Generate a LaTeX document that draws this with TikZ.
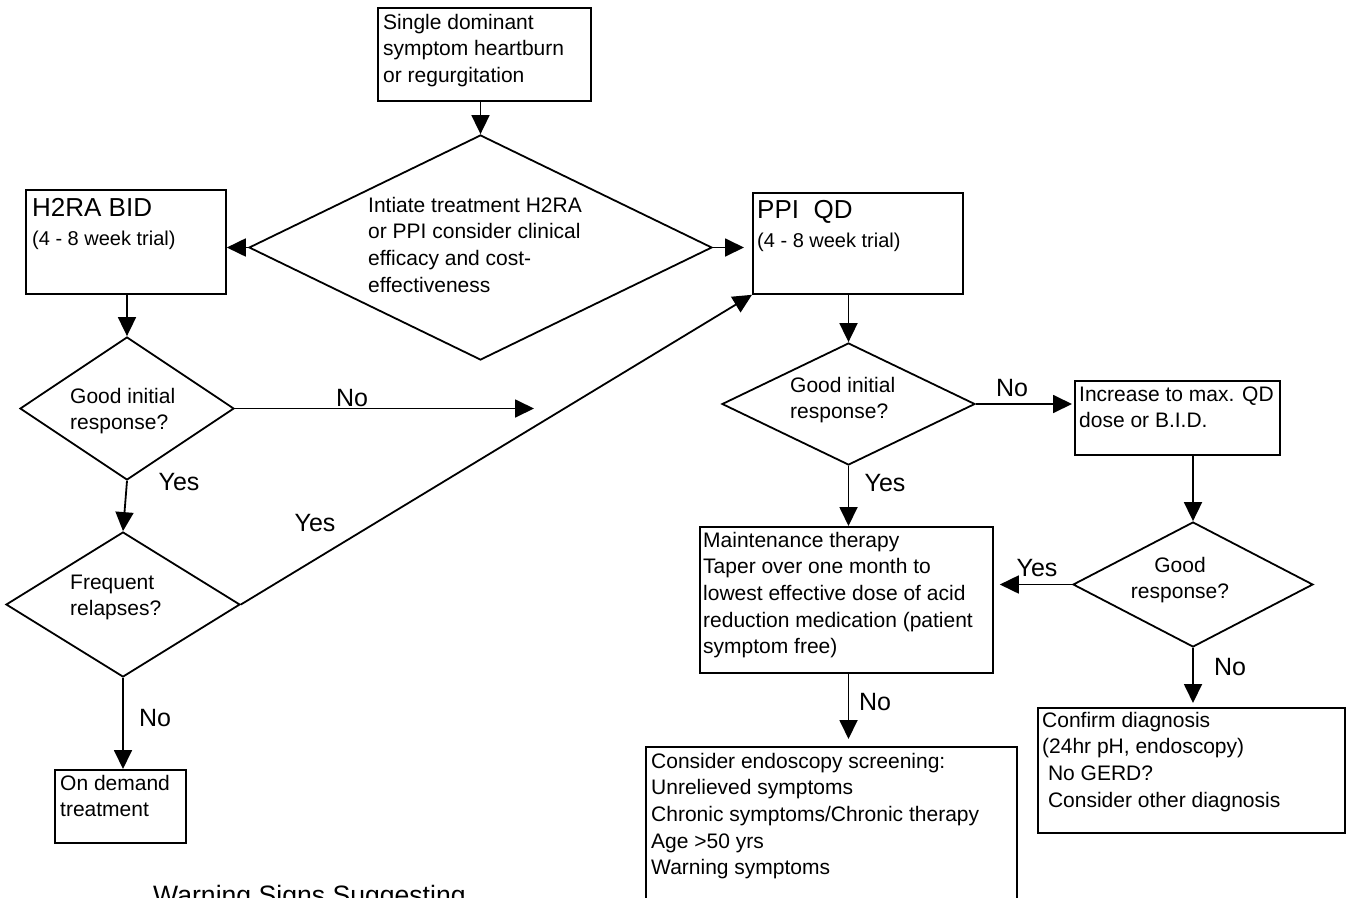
\documentclass[tikz,border=0pt]{standalone}
\usepackage{fontspec}
\setmainfont{Liberation Sans}
\usetikzlibrary{shapes.geometric}
\usetikzlibrary{arrows.meta}
\usetikzlibrary{positioning}

\tikzset{
  box/.style={draw, line width=1.8pt, inner sep=0pt, anchor=north west},
  decision/.style={draw, diamond, line width=1.8pt, inner sep=0pt},
  txt/.style={anchor=base west, align=left, inner sep=0pt, font=\fontsize{21}{26.7}\selectfont},
  ctxt/.style={anchor=base, align=center, inner sep=0pt, font=\fontsize{21}{26.7}\selectfont},
  head/.style={anchor=base west, inner sep=0pt, font=\fontsize{26}{30}\selectfont},
  sub/.style={anchor=base west, inner sep=0pt, font=\fontsize{20}{26}\selectfont},
  lbl/.style={inner sep=0pt, font=\fontsize{25}{30}\selectfont},
  arr/.style={line width=1.8pt, -{Triangle[length=19pt,width=18pt]}}
}

\begin{document}
\begin{tikzpicture}[x=1pt,y=-1pt]
		\useasboundingbox (0,0) rectangle (1346,897);
		\clip (0,0) rectangle (1346,897);
		% boxes
		\node[box, minimum width=213pt, minimum height=93pt] (single) at (377,7) {};
		\node[box, minimum width=200pt, minimum height=104pt] (h2ra) at (25,189) {};
		\node[box, minimum width=210pt, minimum height=101pt] (ppi) at (752,192) {};
		\node[box, minimum width=205pt, minimum height=74pt] (incr) at (1074,380) {};
		\node[box, minimum width=293pt, minimum height=146pt] (maint) at (699,526) {};
		\node[box, minimum width=371pt, minimum height=152pt] (endo) at (645,746) {};
		\node[box, minimum width=307pt, minimum height=125pt] (confirm) at (1037,707) {};
		\node[box, minimum width=131pt, minimum height=73pt] (demand) at (54,769) {};
		% decisions
		\node[decision, minimum width=463pt, minimum height=225pt] (start) at (480.5,247.5) {};
		\node[decision, minimum width=214pt, minimum height=143pt] (goodl) at (127,408.5) {};
		\node[decision, minimum width=234pt, minimum height=145pt] (freq) at (123,604.5) {};
		\node[decision, minimum width=253pt, minimum height=122pt] (goodr) at (848.5,404) {};
		\node[decision, minimum width=240pt, minimum height=125pt] (goodmax) at (1193,584.5) {};
		% texts (placed at the baseline of their last line)
		\node[txt] (singletxt) at (383,82.4) {Single dominant\\symptom heartburn\\or regurgitation};
		\node[head] (h2rahead) at (32,216) {H2RA BID};
		\node[sub] (h2rasub) at (32,245) {(4 - 8 week trial)};
		\node[head] (ppihead) at (757,218) {PPI\ \ QD};
		\node[sub] (ppisub) at (757,247) {(4 - 8 week trial)};
		\node[txt] (starttxt) at (368,292.1) {Intiate treatment H2RA\\or PPI consider clinical\\efficacy and cost-\\effectiveness};
		\node[txt] (goodltxt) at (70,429.7) {Good initial\\response?};
		\node[txt] (freqtxt) at (70,615.7) {Frequent\\relapses?};
		\node[txt] (demandtxt) at (60,816.7) {On demand\\treatment};
		\node[txt] (goodrtxt) at (790,418.7) {Good initial\\response?};
		\node[txt] (incrtxt) at (1079,427.7) {Increase to max. QD\\dose or B.I.D.};
		\node[ctxt] (goodmaxtxt) at (1180,598.7) {Good\\response?};
		\node[txt] (mainttxt) at (703,653.8) {Maintenance therapy\\Taper over one month to\\lowest effective dose of acid\\reduction medication (patient\\symptom free)};
		\node[txt] (endotxt) at (651,874.8) {Consider endoscopy screening:\\Unrelieved symptoms\\Chronic symptoms/Chronic therapy\\Age >50 yrs\\Warning symptoms};
		\node[txt] (confirmtxt) at (1042,807.1) {Confirm diagnosis\\(24hr pH, endoscopy)\\\ No GERD?\\\ Consider other diagnosis};
		\node[anchor=base west, inner sep=0pt, font=\fontsize{26.6}{30}\selectfont] (warning) at (153,904) {Warning Signs Suggesting};
		% connectors
		\coordinate (noend) at (534,408.5);
		\draw[arr] (start.north |- single.south) -- (start.north);
		\draw[arr] (start.west) -- (start.west -| h2ra.east);
		\draw[arr, shorten >=8pt] (start.east) -- (start.east -| ppi.west);
		\draw[arr] (goodl.north |- h2ra.south) -- (goodl.north);
		\draw[arr] (goodl.east) -- (noend);
		\draw[arr] (goodl.south) -- (freq.north);
		\draw[arr] (freq.east) -- (ppi.south west);
		\draw[arr] (freq.south) -- (freq.south |- demand.north);
		\draw[arr] (goodr.north |- ppi.south) -- (goodr.north);
		\draw[arr, shorten >=2pt] (goodr.east) -- (goodr.east -| incr.west);
		\draw[arr] (goodr.south) -- (goodr.south |- maint.north);
		\draw[arr] (goodmax.north |- incr.south) -- (goodmax.north);
		\draw[arr, shorten >=6pt] (goodmax.west) -- (goodmax.west -| maint.east);
		\draw[arr, shorten >=4pt] (goodmax.south) -- (goodmax.south |- confirm.north);
		\draw[arr, shorten >=7pt] (maint.south -| goodr.south) -- (goodr.south |- endo.north);
		% yes / no labels
		\node[lbl] (nol) at (352,398) {No};
		\node[lbl] (yesl) at (179,482) {Yes};
		\node[lbl] (yesfreq) at (315,523) {Yes};
		\node[lbl] (nofreq) at (155,718) {No};
		\node[lbl] (nor) at (1012,388) {No};
		\node[lbl] (yesr) at (885,483) {Yes};
		\node[lbl] (yesmax) at (1037,568) {Yes};
		\node[lbl] (nomax) at (1230,667) {No};
		\node[lbl] (nomaint) at (875,702) {No};
\end{tikzpicture}
\end{document}
